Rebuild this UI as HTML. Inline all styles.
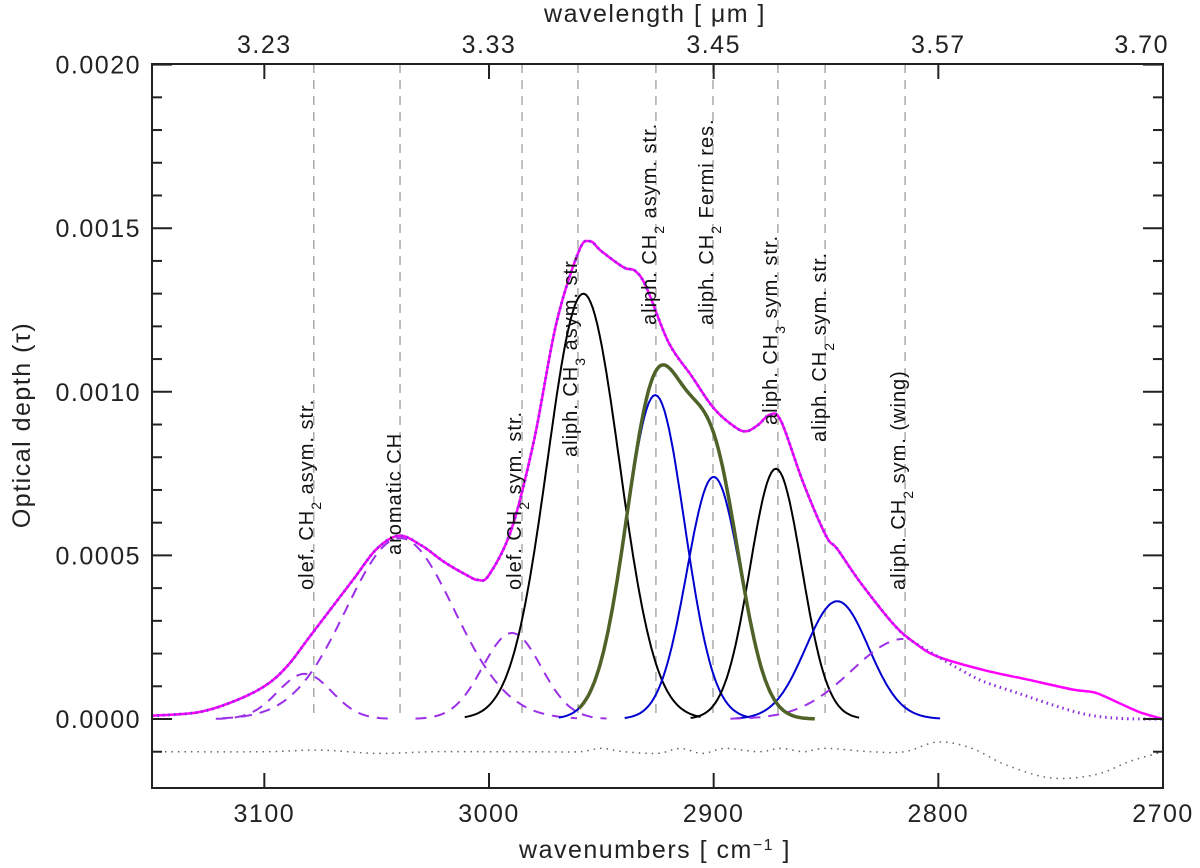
<!DOCTYPE html>
<html><head><meta charset="utf-8"><title>Optical depth decomposition</title>
<style>
html,body{margin:0;padding:0;background:#fff;}
svg{display:block;font-family:"Liberation Sans","DejaVu Sans",sans-serif;}
.tick{font-size:25px;fill:#222;letter-spacing:1.5px;}
.lab{font-size:20px;fill:#111;letter-spacing:1px;}
</style></head>
<body>
<svg id="chart" width="1200" height="868" viewBox="0 0 1200 868" xmlns="http://www.w3.org/2000/svg">
  <g id="vlines"></g>
  <g id="series"></g>
  <g id="axes"></g>
  <g id="labels">
    <text class="lab" transform="translate(313,590) rotate(-90)">olef. CH<tspan baseline-shift="sub" font-size="14">2</tspan> asym. str.</text>
    <text class="lab" transform="translate(401,555) rotate(-90)">aromatic CH</text>
    <text class="lab" transform="translate(521,590) rotate(-90)">olef. CH<tspan baseline-shift="sub" font-size="14">2</tspan> sym. str.</text>
    <text class="lab" transform="translate(577,457) rotate(-90)">aliph. CH<tspan baseline-shift="sub" font-size="14">3</tspan> asym. str.</text>
    <text class="lab" transform="translate(656,325) rotate(-90)">aliph. CH<tspan baseline-shift="sub" font-size="14">2</tspan> asym. str.</text>
    <text class="lab" transform="translate(713,325) rotate(-90)">aliph. CH<tspan baseline-shift="sub" font-size="14">2</tspan> Fermi res.</text>
    <text class="lab" transform="translate(777,425) rotate(-90)">aliph. CH<tspan baseline-shift="sub" font-size="14">3</tspan> sym. str.</text>
    <text class="lab" transform="translate(826,442) rotate(-90)">aliph. CH<tspan baseline-shift="sub" font-size="14">2</tspan> sym. str.</text>
    <text class="lab" transform="translate(905,590) rotate(-90)">aliph. CH<tspan baseline-shift="sub" font-size="14">2</tspan> sym. (wing)</text>
  </g>
  <text class="tick" x="655" y="858" text-anchor="middle">wavenumbers [ cm<tspan baseline-shift="super" font-size="16">−1</tspan> ]</text>
  <text class="tick" x="655" y="22" text-anchor="middle">wavelength [ μm ]</text>
  <text class="tick" transform="translate(30,425) rotate(-90)" text-anchor="middle">Optical depth (τ)</text>
</svg>
<script>
// ---- data ----
const xTicks = [3100, 3000, 2900, 2800, 2700];
const topTickLabels = ["3.23", "3.33", "3.45", "3.57", "3.70"];
const yTicks = [0, 0.0005, 0.0010, 0.0015, 0.0020];
const yTickLabels = ["0.0000", "0.0005", "0.0010", "0.0015", "0.0020"];
const bandMarkers = [3078, 3039.6, 2985.3, 2960.4, 2925.7, 2900.3, 2871.4, 2850.4, 2814.8];
// observed optical depth
const obsWn  = [3150,3130,3115,3100,3090,3080,3070,3060,3050,3040,3030,3020,3010,3005,3000,2990,2980,2970,2960,2955,2950,2940,2935,2930,2920,2910,2900,2890,2885,2880,2875,2870,2860,2850,2845,2835,2820,2810,2800,2780,2760,2740,2730,2720,2710,2700];
const obsTau = [0.00001,0.00002,0.00005,0.00010,0.00016,0.00025,0.00034,0.00043,0.00052,0.00056,0.00053,0.00048,0.00044,0.000425,0.00044,0.00058,0.00085,0.00121,0.00143,0.00146,0.00143,0.00138,0.00137,0.00132,0.00115,0.00105,0.00095,0.00089,0.00088,0.00090,0.00093,0.00091,0.00072,0.00056,0.00052,0.00042,0.00029,0.00023,0.00019,0.00015,0.00012,0.00009,0.00008,0.00005,0.00002,0.0];
// model fit (total)
const modWn  = [3150,3130,3115,3100,3090,3080,3070,3060,3050,3040,3030,3020,3010,3005,3000,2990,2980,2970,2960,2955,2950,2940,2935,2930,2920,2910,2900,2890,2885,2880,2875,2870,2860,2850,2845,2835,2820,2812,2800,2790,2780,2765,2750,2735,2720,2700];
const modTau = [0.00001,0.00002,0.00005,0.00010,0.00016,0.00025,0.00034,0.00043,0.00052,0.00056,0.00053,0.00048,0.00044,0.000425,0.00044,0.00058,0.00085,0.00121,0.00143,0.00146,0.00143,0.00138,0.00137,0.00132,0.00115,0.00105,0.00095,0.00089,0.00088,0.00090,0.00093,0.00091,0.00072,0.00056,0.00052,0.00042,0.00029,0.00024,0.00019,0.00015,0.000115,0.00008,0.000045,0.000015,0.000002,0.0];
// residual
const resWn  = [3150,3100,3075,3050,3025,3000,2980,2960,2950,2940,2925,2915,2905,2895,2880,2870,2860,2850,2830,2815,2800,2785,2770,2750,2730,2715,2700];
const resTau = [-0.0001,-0.0001,-0.000095,-0.000105,-0.0001,-0.0001,-0.0001,-0.0001,-0.00009,-0.0001,-0.000105,-0.00009,-0.000105,-0.00009,-0.0001,-0.00009,-0.0001,-0.00009,-0.0001,-0.0001,-0.00007,-0.00009,-0.00014,-0.00018,-0.00017,-0.00013,-0.0001];
// gaussian components
const compNames   = ["olef-ch2-asym","aromatic-ch","olef-ch2-sym","aliph-ch3-asym","aliph-ch2-asym","aliph-ch2-fermi","aliph-ch3-sym","aliph-ch2-sym","aliph-ch2-wing"];
const compCenters = [3082, 3039.6, 2989.8, 2958, 2926, 2900, 2872.3, 2845, 2815];
const compAmps    = [0.000138, 0.000553, 0.000263, 0.00130, 0.00099, 0.00074, 0.000765, 0.00036, 0.000245];
const compSigmas  = [12, 24, 13, 16, 13, 12, 11.5, 14, 23.5];

// ---- scales ----
const X0=152, X1=1163, Y0=64, Y1=788;
const wnMax=3150, wnMin=2700;
function xs(w){return X0+(wnMax-w)/(wnMax-wnMin)*(X1-X0);}
function ys(t){return 719-(t/0.0005)*163.6;}
const NS="http://www.w3.org/2000/svg";
function el(tag,attrs,parent){const e=document.createElementNS(NS,tag);for(const k in attrs)e.setAttribute(k,attrs[k]);parent.appendChild(e);return e;}
function gauss(i,w){const d=(w-compCenters[i])/compSigmas[i];return compAmps[i]*Math.exp(-0.5*d*d);}
function pathFrom(ws,ts){return ws.map((w,k)=>(k?"L":"M")+xs(w).toFixed(1)+","+ys(ts[k]).toFixed(1)).join(" ");}
function smoothPath(ws,ts){
  const p=ws.map((w,k)=>[xs(w),ys(ts[k])]);let d="M"+p[0][0]+","+p[0][1];
  for(let i=0;i<p.length-1;i++){const a=p[Math.max(i-1,0)],b=p[i],c=p[i+1],e=p[Math.min(i+2,p.length-1)];
    d+=" C"+(b[0]+(c[0]-a[0])/6).toFixed(1)+","+(b[1]+(c[1]-a[1])/6).toFixed(1)+" "+(c[0]-(e[0]-b[0])/6).toFixed(1)+","+(c[1]-(e[1]-b[1])/6).toFixed(1)+" "+c[0].toFixed(1)+","+c[1].toFixed(1);}
  return d;}

const vl=document.getElementById('vlines');
bandMarkers.forEach((w,i)=>{
  const l=el('line',{x1:xs(w),x2:xs(w),y1:Y0,y2:719,stroke:'#aaa','stroke-width':1.5,'stroke-dasharray':'9 7'},vl);
  
  
});

const sg=document.getElementById('series');
const compStyle=['pd','pd','pd','k','b','b','k','b','pd'];
compNames.forEach((n,i)=>{
  let lo=compCenters[i]-3.3*compSigmas[i], hi=compCenters[i]+3.3*compSigmas[i];
  if(i===8){lo=compCenters[i];}
  const ws=[],ts=[];for(let w=hi;w>=lo-0.01;w-=1){ws.push(w);ts.push(gauss(i,w));}
  const st=compStyle[i];
  const attrs={d:pathFrom(ws,ts),fill:'none','stroke-width':2};
  attrs.stroke=st==='pd'?'#9b30e8':(st==='k'?'#000':'#0000d0');
  if(st==='pd')attrs['stroke-dasharray']='11 8';
  const p=el('path',attrs,sg);
  
  
});
{const ws=[],ts=[];for(let w=2960;w>=2855;w-=1){ws.push(w);ts.push(gauss(4,w)+gauss(5,w));}
 const p=el('path',{d:pathFrom(ws,ts),fill:'none',stroke:'#4f6228','stroke-width':3.5},sg);
 
 }
{const p=el('path',{d:smoothPath(obsWn,obsTau),fill:'none',stroke:'#ff00ff','stroke-width':2.5},sg);
 
 }
{const p=el('path',{d:smoothPath(modWn,modTau),fill:'none',stroke:'#8a2be2','stroke-width':3,'stroke-dasharray':'1.5 4'},sg);
 
 }
{const p=el('path',{d:smoothPath(resWn,resTau),fill:'none',stroke:'#666','stroke-width':1.5,'stroke-dasharray':'1.5 5'},sg);
 
 }

const ax=document.getElementById('axes');
const frame=el('rect',{x:X0,y:Y0,width:X1-X0,height:Y1-Y0,fill:'none',stroke:'#222','stroke-width':2},ax);


xTicks.forEach((w,i)=>{
  const x=xs(w);
  el('line',{x1:x,x2:x,y1:Y1,y2:Y1-15,stroke:'#222','stroke-width':2},ax);
  el('line',{x1:x,x2:x,y1:Y0,y2:Y0+15,stroke:'#222','stroke-width':2},ax);
  const tb=el('text',{x:x,y:822,'text-anchor':'middle',class:'tick'},ax);tb.textContent=String(w);
  
  
  const tt=el('text',{x:i===4?x+6:x,y:53,'text-anchor':i===4?'end':'middle',class:'tick'},ax);tt.textContent=topTickLabels[i];
  
  
});
for(let t=-0.0001;t<=0.00201;t+=0.0001){
  const y=ys(t);const major=Math.abs(Math.round(t*1e4)%5)===0;
  const len=major?20:10;
  el('line',{x1:X0,x2:X0+len,y1:y,y2:y,stroke:'#222','stroke-width':2},ax);
  el('line',{x1:X1,x2:X1-len,y1:y,y2:y,stroke:'#222','stroke-width':2},ax);
}
yTicks.forEach((t,i)=>{
  const tx=el('text',{x:141,y:ys(t)+9,'text-anchor':'end',class:'tick'},ax);tx.textContent=yTickLabels[i];
  
  
});
</script>
</body></html>
